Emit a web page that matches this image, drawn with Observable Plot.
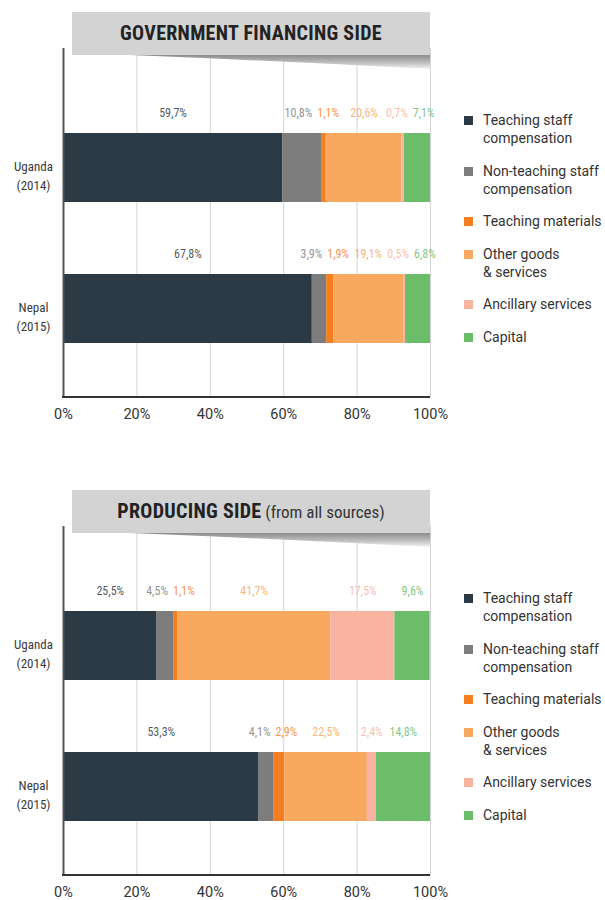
<!DOCTYPE html>
<html>
<head>
<meta charset="utf-8">
<script src="https://cdn.jsdelivr.net/npm/d3@7"></script>
<script src="https://cdn.jsdelivr.net/npm/@observablehq/plot@0.6"></script>
<style>
  body { margin: 0; background: #fff; font-family: "Roboto Condensed", Roboto, sans-serif; }
  .panel { position: relative; width: 605px; height: 478px; overflow: visible; }
  .panel > svg.plot { position: absolute; left: 0; top: 0; }
  .banner { position: absolute; left: 72px; top: 12px; width: 358px; height: 43px; background: #d3d3d3;
            text-align: center; line-height: 43px; color: #222; font-family: "Roboto Condensed", Roboto, sans-serif; }
  .banner b { font-size: 20px; font-weight: 700; letter-spacing: 0.3px; }
  .banner span { font-size: 17px; font-weight: 400; color: #333; }
  .shadow { position: absolute; left: 0; top: 55px; }
  .legend { position: absolute; left: 464px; top: 111px; font-family: Roboto, sans-serif; font-size: 14px; color: #333; }
  .item { display: flex; align-items: flex-start; margin-bottom: 14.6px; line-height: 18px; white-space: pre; }
  .sw { width: 9px; height: 9px; margin-top: 5px; margin-right: 10px; flex: none; }
</style>
</head>
<body>
<div id="root"></div>
<script>
const categories = ["Teaching staff compensation", "Non-teaching staff compensation", "Teaching materials", "Other goods & services", "Ancillary services", "Capital"];
const legendLabels = ["Teaching staff\ncompensation", "Non-teaching staff\ncompensation", "Teaching materials", "Other goods\n& services", "Ancillary services", "Capital"];
const colors = ["#2b3a45", "#7d7d7d", "#f47f20", "#f9a860", "#f8b4a0", "#6bbd6a"];
const countries = ["Uganda (2014)", "Nepal (2015)"];
const countryLabels = ["Uganda\n(2014)", "Nepal\n(2015)"];
const govUganda = [59.7, 10.8, 1.1, 20.6, 0.7, 7.1];
const govNepal = [67.8, 3.9, 1.9, 19.1, 0.5, 6.8];
const prodUganda = [25.5, 4.5, 1.1, 41.7, 17.5, 9.6];
const prodNepal = [53.3, 4.1, 2.9, 22.5, 2.4, 14.8];
const xTicks = [0, 20, 40, 60, 80, 100];

const W = 605, H = 422, ML = 63, MR = 175, MT = 48, MB = 25;
const pxPerUnit = (W - ML - MR) / 100;
const labelFont = "12px 'Roboto Condensed'";
const ctx = document.createElement("canvas").getContext("2d");
ctx.font = labelFont;
const fmt = v => d3.format(".1f")(v).replace(".", ",") + "%";

function buildRows(seriesByCountry) {
  const rows = [], labels = [];
  countries.forEach((c, ci) => {
    let acc = 0;
    const ls = [];
    seriesByCountry[ci].forEach((v, k) => {
      rows.push({country: c, category: categories[k], start: acc, end: acc + v});
      const txt = fmt(v);
      ls.push({country: c, category: categories[k], txt, mid: acc + v / 2, w: ctx.measureText(txt).width / pxPerUnit});
      acc += v;
    });
    // simple collision resolution (data units)
    const gap = 5 / pxPerUnit;
    for (let it = 0; it < 60; it++) {
      for (let i = 1; i < ls.length; i++) {
        const a = ls[i - 1], b = ls[i];
        const need = a.w / 2 + b.w / 2 + gap;
        const d = b.mid - a.mid;
        if (d < need) { const o = (need - d) / 2; a.mid -= o; b.mid += o; }
      }
    }
    labels.push(...ls);
  });
  return {rows, labels};
}

function bottomLine(index, scales, values, dims) {
  const l = document.createElementNS("http://www.w3.org/2000/svg", "line");
  const y = dims.height - dims.marginBottom;
  l.setAttribute("x1", dims.marginLeft - 1);
  l.setAttribute("x2", dims.width - dims.marginRight);
  l.setAttribute("y1", y); l.setAttribute("y2", y);
  l.setAttribute("stroke", "#333"); l.setAttribute("stroke-width", 2);
  return l;
}

function panel(titleBold, titleRest, uganda, nepal, id) {
  const {rows, labels} = buildRows([uganda, nepal]);
  const div = document.createElement("div");
  div.className = "panel";
  const plot = Plot.plot({
    width: W, height: H, marginLeft: ML, marginRight: MR, marginTop: MT, marginBottom: MB,
    style: {fontFamily: "Roboto, sans-serif", background: "transparent", overflow: "visible"},
    x: {domain: [0, 100], axis: null},
    y: {domain: countries, axis: null, paddingInner: 0.51, paddingOuter: 0.49, align: 0.61},
    color: {domain: categories, range: colors},
    marks: [
      Plot.gridX(xTicks.slice(1), {stroke: "#d4d4d4", strokeOpacity: 1, strokeWidth: 1}),
      Plot.barX(rows, {x1: "start", x2: "end", y: "country", fill: "category"}),
      Plot.text(labels, {x: "mid", y: "country", text: "txt", fill: "category", fillOpacity: 0.85, dy: -55,
        fontSize: 12, fontFamily: "'Roboto Condensed', Roboto, sans-serif"}),
      Plot.text(countries, {y: d => d, frameAnchor: "left", dx: -30, dy: 6, text: (d, i) => countryLabels[i],
        textAnchor: "middle", lineHeight: 1.46, fontSize: 13, fill: "#3a3a3a", fontWeight: 400,
        fontFamily: "'Roboto Condensed', Roboto, sans-serif"}),
      Plot.axisX(xTicks, {tickSize: 0, tickPadding: 11, tickFormat: d => d + "%", fontSize: 14.5, fill: "#333"}),
      Plot.ruleX([0], {stroke: "#555", strokeWidth: 2}),
      bottomLine
    ]
  });
  plot.classList.add("plot");
  div.appendChild(plot);

  const sh = d3.create("svg").attr("class", "shadow").attr("width", W).attr("height", 16);
  const grad = sh.append("defs").append("linearGradient").attr("id", "g" + id).attr("x1", 0).attr("y1", 0).attr("x2", 0).attr("y2", 1);
  grad.append("stop").attr("offset", 0).attr("stop-color", "#8c8c8c");
  grad.append("stop").attr("offset", 0.6).attr("stop-color", "#c4c4c4");
  grad.append("stop").attr("offset", 1).attr("stop-color", "#f4f4f4");
  sh.append("path").attr("d", "M130,0 L430,0 L430,14 Q280,6 130,0 Z").attr("fill", `url(#g${id})`);
  div.appendChild(sh.node());

  const banner = document.createElement("div");
  banner.className = "banner";
  banner.innerHTML = `<b>${titleBold}</b>${titleRest ? `<span> ${titleRest}</span>` : ""}`;
  div.appendChild(banner);

  const lg = document.createElement("div");
  lg.className = "legend";
  categories.forEach((c, i) => {
    const it = document.createElement("div");
    it.className = "item";
    it.innerHTML = `<div class="sw" style="background:${colors[i]}"></div><div>${legendLabels[i].replace("&", "&amp;")}</div>`;
    lg.appendChild(it);
  });
  div.appendChild(lg);
  return div;
}

const root = document.getElementById("root");
root.appendChild(panel("GOVERNMENT FINANCING SIDE", "", govUganda, govNepal, 1));
root.appendChild(panel("PRODUCING SIDE", "(from all sources)", prodUganda, prodNepal, 2));
</script>
</body>
</html>
